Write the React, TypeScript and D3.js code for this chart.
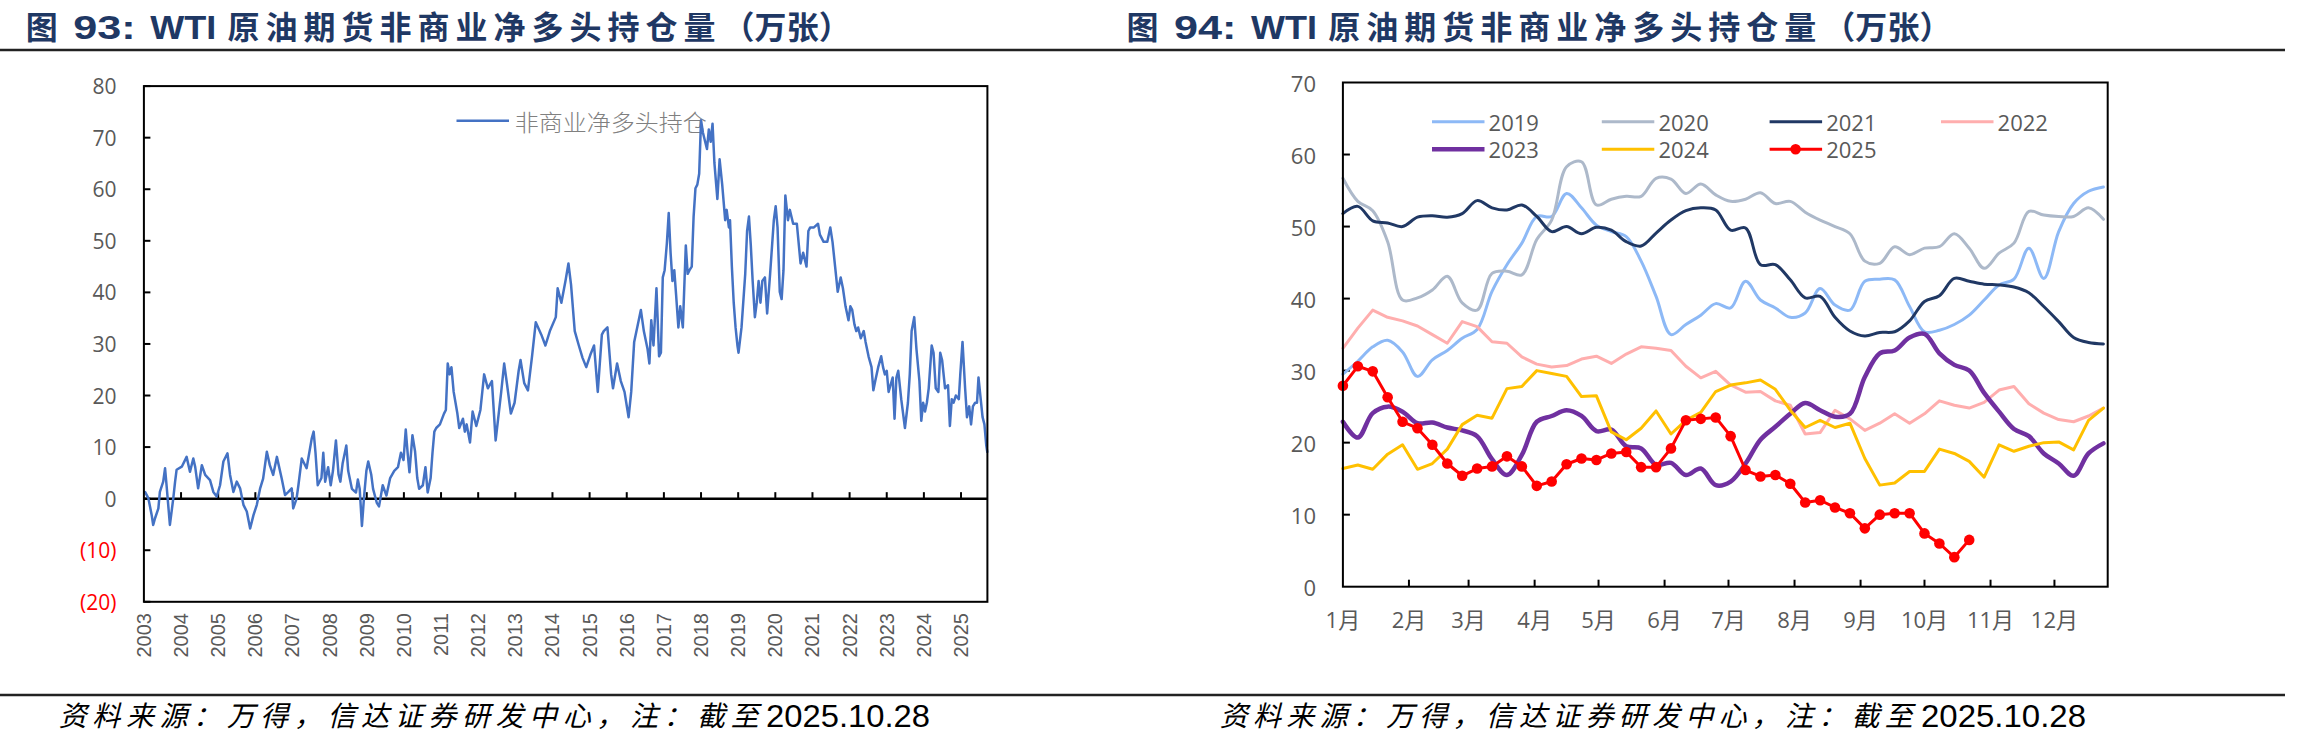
import React, { useEffect } from "react";
import * as d3 from "d3";

// ---------- Figure 93: weekly non-commercial net long (10k contracts), 2003–2025 ----------
const netLongYear = [
  2003.0, 2003.03, 2003.12, 2003.21, 2003.25, 2003.3, 2003.39, 2003.43, 2003.52, 2003.57, 2003.61, 2003.7,
  2003.79, 2003.84, 2003.88, 2004.02, 2004.15, 2004.24, 2004.33, 2004.38, 2004.46, 2004.56, 2004.65, 2004.78,
  2004.87, 2004.96, 2005.05, 2005.14, 2005.25, 2005.32, 2005.41, 2005.5, 2005.59, 2005.68, 2005.77, 2005.86,
  2005.95, 2006.04, 2006.13, 2006.21, 2006.31, 2006.39, 2006.48, 2006.58, 2006.71, 2006.8, 2006.89, 2006.98,
  2007.02, 2007.11, 2007.16, 2007.25, 2007.38, 2007.52, 2007.57, 2007.62, 2007.68, 2007.78, 2007.83, 2007.88,
  2007.96, 2008.03, 2008.09, 2008.17, 2008.24, 2008.29, 2008.35, 2008.45, 2008.5, 2008.6, 2008.71, 2008.76,
  2008.81, 2008.87, 2008.93, 2008.99, 2009.04, 2009.12, 2009.17, 2009.27, 2009.33, 2009.43, 2009.53, 2009.63,
  2009.74, 2009.84, 2009.92, 2009.99, 2010.05, 2010.1, 2010.15, 2010.23, 2010.3, 2010.36, 2010.41, 2010.51,
  2010.58, 2010.64, 2010.72, 2010.77, 2010.82, 2010.87, 2010.97, 2011.08, 2011.13, 2011.18, 2011.23, 2011.28,
  2011.34, 2011.44, 2011.49, 2011.59, 2011.64, 2011.69, 2011.78, 2011.85, 2011.95, 2012.06, 2012.16, 2012.26,
  2012.37, 2012.47, 2012.52, 2012.62, 2012.7, 2012.78, 2012.88, 2012.98, 2013.09, 2013.14, 2013.24, 2013.34,
  2013.45, 2013.55, 2013.7, 2013.81, 2013.93, 2014.09, 2014.14, 2014.24, 2014.35, 2014.43, 2014.5, 2014.6,
  2014.71, 2014.81, 2014.91, 2015.02, 2015.12, 2015.22, 2015.33, 2015.38, 2015.48, 2015.58, 2015.63, 2015.74,
  2015.84, 2015.94, 2016.05, 2016.12, 2016.2, 2016.3, 2016.38, 2016.46, 2016.56, 2016.61, 2016.66, 2016.72,
  2016.8, 2016.87, 2016.92, 2016.97, 2017.02, 2017.08, 2017.13, 2017.18, 2017.23, 2017.28, 2017.33, 2017.39,
  2017.44, 2017.51, 2017.59, 2017.64, 2017.69, 2017.75, 2017.8, 2017.85, 2017.9, 2017.95, 2018.0, 2018.05,
  2018.16, 2018.21, 2018.26, 2018.31, 2018.36, 2018.44, 2018.5, 2018.57, 2018.65, 2018.69, 2018.75, 2018.78,
  2018.83, 2018.88, 2018.93, 2018.98, 2019.01, 2019.09, 2019.19, 2019.24, 2019.29, 2019.34, 2019.39, 2019.45,
  2019.5, 2019.55, 2019.6, 2019.65, 2019.72, 2019.78, 2019.86, 2019.96, 2020.01, 2020.06, 2020.12, 2020.17,
  2020.22, 2020.27, 2020.34, 2020.39, 2020.48, 2020.58, 2020.68, 2020.75, 2020.84, 2020.89, 2020.94, 2021.04,
  2021.15, 2021.2, 2021.3, 2021.4, 2021.48, 2021.54, 2021.61, 2021.68, 2021.76, 2021.82, 2021.89, 2021.97,
  2022.02, 2022.07, 2022.13, 2022.18, 2022.23, 2022.3, 2022.38, 2022.43, 2022.51, 2022.59, 2022.64, 2022.69,
  2022.77, 2022.85, 2022.9, 2022.95, 2023.0, 2023.05, 2023.16, 2023.21, 2023.26, 2023.31, 2023.39, 2023.49,
  2023.57, 2023.62, 2023.67, 2023.74, 2023.8, 2023.88, 2023.93, 2023.98, 2024.03, 2024.08, 2024.13, 2024.21,
  2024.26, 2024.32, 2024.39, 2024.44, 2024.49, 2024.57, 2024.65, 2024.7, 2024.75, 2024.8, 2024.86, 2024.94,
  2024.98, 2025.04, 2025.11, 2025.16, 2025.22, 2025.27, 2025.32, 2025.38, 2025.43, 2025.47, 2025.52, 2025.58,
  2025.63, 2025.68, 2025.71,
];
const netLongValue = [
  1.0, 1.3, 0.1, -3.2, -5.1, -3.8, -1.9, 1.3, 3.3, 5.9, 2.6, -5.1,
  0.0, 3.3, 5.6, 6.2, 8.1, 5.2, 7.8, 6.2, 2.0, 6.5, 4.6, 3.6,
  1.3, 0.4, 2.6, 7.2, 8.8, 4.6, 1.3, 3.3, 2.0, -1.2, -2.5, -5.8,
  -3.2, -1.2, 2.0, 3.9, 9.1, 6.5, 4.6, 8.1, 3.9, 0.7, 1.3, 2.0,
  -1.9, 0.0, 2.6, 7.8, 5.9, 11.7, 13.0, 8.9, 2.6, 4.0, 8.9, 3.3,
  6.1, 2.6, 5.4, 11.3, 4.7, 3.3, 6.8, 10.3, 5.4, 1.9, 1.2, 3.7,
  1.9, -5.3, 0.6, 5.4, 7.2, 4.7, 1.9, -0.8, -1.5, 2.6, 0.6, 4.0,
  5.4, 6.1, 8.9, 7.5, 13.4, 8.9, 5.1, 12.3, 9.2, 4.0, 1.9, 2.6,
  6.1, 1.2, 4.0, 8.9, 13.0, 13.7, 14.4, 16.5, 17.2, 26.2, 24.1, 25.5,
  20.7, 16.5, 13.7, 15.5, 13.0, 14.4, 10.9, 16.9, 14.1, 17.2, 24.1, 21.4,
  22.8, 11.3, 14.4, 20.7, 26.2, 22.0, 16.5, 18.6, 24.8, 26.9, 22.4, 21.0,
  27.6, 34.2, 31.8, 29.7, 32.5, 35.2, 40.8, 38.0, 42.2, 45.6, 41.5, 32.5,
  29.7, 27.3, 25.5, 27.9, 29.7, 20.7, 31.8, 32.5, 33.2, 24.1, 21.4, 26.2,
  22.8, 20.7, 15.8, 20.7, 30.4, 33.8, 36.6, 32.5, 29.0, 26.2, 34.6, 29.7,
  40.8, 27.6, 28.3, 42.9, 44.3, 49.5, 55.4, 47.7, 42.2, 44.3, 39.4, 33.2,
  37.3, 33.2, 49.1, 43.6, 44.3, 45.0, 54.7, 60.2, 60.9, 63.0, 73.4, 71.0,
  67.8, 71.6, 69.2, 72.7, 65.1, 58.1, 65.8, 60.9, 54.0, 56.0, 52.6, 54.0,
  45.0, 38.0, 33.2, 29.7, 28.3, 33.2, 43.6, 51.9, 54.7, 49.1, 42.2, 35.2,
  38.0, 42.2, 38.0, 42.2, 42.9, 35.9, 43.6, 54.0, 56.7, 52.6, 40.1, 38.7,
  44.3, 58.8, 54.0, 56.0, 53.3, 53.3, 45.6, 47.7, 45.0, 51.9, 52.6, 52.6,
  53.3, 51.2, 49.8, 49.8, 52.6, 49.8, 45.0, 40.1, 42.9, 40.8, 37.3, 34.6,
  37.3, 36.6, 33.8, 32.5, 33.2, 31.1, 32.5, 30.4, 27.6, 25.5, 21.0, 22.8,
  25.5, 27.6, 25.5, 24.1, 24.8, 20.7, 23.5, 15.5, 23.5, 24.8, 19.3, 13.7,
  18.6, 24.1, 32.5, 35.2, 29.0, 22.8, 15.1, 18.6, 16.9, 18.6, 21.4, 29.7,
  28.3, 21.4, 20.7, 28.3, 26.9, 21.4, 22.0, 14.1, 19.3, 18.6, 20.0, 19.3,
  24.1, 30.4, 21.4, 15.8, 17.9, 14.4, 17.9, 18.6, 18.6, 23.5, 20.0, 15.8,
  14.4, 10.3, 8.9,
];
const yearLabels = [
  "2003", "2004", "2005", "2006", "2007", "2008", "2009", "2010", "2011", "2012", "2013", "2014",
  "2015", "2016", "2017", "2018", "2019", "2020", "2021", "2022", "2023", "2024", "2025",
];
const netLongTicks = [80, 70, 60, 50, 40, 30, 20, 10, 0, -10, -20];

// ---------- Figure 94: the same position, one line per year, by week of year ----------
const monthLabels = ["1月", "2月", "3月", "4月", "5月", "6月", "7月", "8月", "9月", "10月", "11月", "12月"];
const seasonTicks = [0, 10, 20, 30, 40, 50, 60, 70];
const seasonNames = ["2019", "2020", "2021", "2022", "2023", "2024", "2025"];

const net2019 = [
  29.5, 31.3, 33.3, 34.2, 32.6, 29.2, 31.5, 32.8, 34.5, 35.7, 41.0, 44.7, 47.7, 51.4, 51.4, 54.6, 52.6, 50.2,
  49.3, 48.6, 45.2, 40.3, 35.0, 36.4, 37.7, 39.3, 38.7, 42.4, 39.8, 38.7, 37.4, 38.0, 41.4, 39.1, 38.4, 42.4,
  42.7, 42.6, 38.9, 35.4, 35.6, 36.4, 37.7, 39.8, 41.9, 42.7, 47.0, 42.8, 49.3, 53.2, 54.9, 55.5,
];
const net2020 = [
  56.7, 53.5, 52.2, 47.9, 39.8, 40.1, 41.2, 43.1, 39.4, 38.4, 43.5, 43.8, 43.3, 48.2, 50.9, 58.3, 59.0, 53.0,
  53.8, 54.2, 54.2, 56.7, 56.6, 54.6, 55.9, 54.4, 53.5, 53.8, 54.7, 53.2, 53.5, 52.0, 50.9, 50.0, 49.0, 45.2,
  44.9, 47.2, 46.1, 47.0, 47.2, 49.0, 47.0, 44.2, 46.3, 47.7, 52.1, 51.6, 51.4, 51.4, 52.6, 51.0,
];
const net2021 = [
  51.8, 52.8, 50.8, 50.5, 50.0, 51.3, 51.5, 51.3, 51.8, 53.6, 52.6, 52.3, 53.0, 51.4, 49.3, 50.0, 49.0, 49.9,
  49.5, 47.9, 47.3, 49.1, 50.9, 52.2, 52.6, 52.3, 49.5, 49.8, 44.7, 44.7, 42.6, 40.1, 40.3, 37.4, 35.5, 34.8,
  35.3, 35.4, 36.9, 39.6, 40.4, 42.8, 42.4, 42.0, 41.9, 41.6, 40.8, 38.9, 36.8, 34.6, 33.9, 33.7,
];
const net2022 = [
  33.1, 35.9, 38.4, 37.4, 36.9, 36.2, 35.0, 33.8, 36.8, 36.1, 34.0, 33.8, 31.9, 30.9, 30.5, 30.7, 31.6, 32.0,
  31.0, 32.3, 33.3, 33.1, 32.8, 30.6, 29.0, 29.9, 28.0, 27.0, 27.1, 25.8, 25.2, 21.2, 21.4, 24.5, 23.3, 21.7,
  22.7, 24.0, 22.7, 24.0, 25.8, 25.2, 24.8, 25.6, 27.3, 27.8, 25.4, 24.1, 23.2, 22.9, 23.7, 24.8,
];
const net2023 = [
  22.9, 20.7, 24.1, 25.0, 24.3, 22.7, 22.8, 22.1, 21.7, 20.9, 17.7, 15.5, 18.3, 22.9, 23.7, 24.5, 23.7, 21.6,
  21.8, 19.5, 19.2, 16.9, 17.2, 15.5, 16.4, 14.1, 14.6, 17.1, 20.4, 22.2, 24.0, 25.5, 24.5, 23.6, 24.0, 29.1,
  32.4, 32.8, 34.6, 35.1, 32.4, 30.8, 30.0, 26.9, 24.3, 21.9, 20.9, 18.5, 17.1, 15.4, 18.5, 19.9,
];
const net2024 = [
  16.4, 16.9, 16.3, 18.4, 19.7, 16.3, 17.1, 19.1, 22.5, 23.8, 23.4, 27.5, 27.8, 30.0, 29.6, 29.2, 26.4, 26.5,
  21.5, 20.4, 22.0, 24.4, 21.2, 23.1, 24.2, 27.1, 28.0, 28.3, 28.7, 27.4, 24.5, 22.1, 23.1, 22.1, 22.7, 17.8,
  14.1, 14.4, 16.0, 16.0, 19.1, 18.5, 17.4, 15.2, 19.7, 18.8, 19.5, 20.0, 20.1, 19.0, 23.1, 24.8,
];
const net2025 = [
  27.9, 30.6, 29.9, 26.3, 22.9, 22.0, 19.7, 17.1, 15.4, 16.4, 16.7, 18.1, 16.7, 14.0, 14.6, 17.0, 17.8, 17.6,
  18.5, 18.7, 16.6, 16.6, 19.2, 23.1, 23.3, 23.5, 20.9, 16.2, 15.3, 15.5, 14.3, 11.7, 12.0, 11.0, 10.2, 8.1,
  10.0, 10.2, 10.2, 7.4, 6.0, 4.1, 6.5,
];

const seasonValues = [net2019, net2020, net2021, net2022, net2023, net2024, net2025];
const seasonColors = ["#8DB9F6", "#ADB9CA", "#203864", "#FFAEAE", "#7030A0", "#FFC000", "#FF0000"];
const seasonWidths = [3, 3, 3, 3, 4.5, 3, 3];
const seasonSmooth = [true, true, true, false, true, false, false];

const TITLE_COLOR = "#1F3864";
const AXIS_TEXT = "#595959";
const LATIN = "'Open Sans', 'Noto Sans CJK SC', sans-serif";
const CJK = "'Noto Sans CJK SC', sans-serif";
const ARIAL = "'Liberation Sans', Arial, sans-serif";

// Title pieces: [text, left offset, width, latin?]
const titleParts: [string, number, number, boolean][] = [
  ["图", 0, 40.5, false],
  ["93:", 47.6, 62.4, true],
  ["WTI", 124.6, 66, true],
  ["原油期货非商业净多头持仓量", 201.7, 488, false],
  ["（万张）", 696.7, 128.4, false],
];

function Title({ x, num }: { x: number; num: string }) {
  return (
    <g fill={TITLE_COLOR} fontWeight={700}>
      {titleParts.map(([t, dx, w, latin]) => (
        <text
          key={dx}
          x={x + dx}
          y={38.5}
          fontFamily={latin ? ARIAL : CJK}
          fontSize={latin ? 34 : 32}
          textLength={w}
          lengthAdjust={latin ? "spacingAndGlyphs" : "spacing"}
        >
          {t === "93:" ? `${num}:` : t}
        </text>
      ))}
    </g>
  );
}

function Source({ x, cjkWidth, dateX, dateWidth }: { x: number; cjkWidth: number; dateX: number; dateWidth: number }) {
  return (
    <g>
      <text
        x={x}
        y={726}
        fontFamily={CJK}
        fontStyle="italic"
        fontSize={28}
        fill="#000"
        textLength={cjkWidth}
        lengthAdjust="spacing"
      >
        资料来源：万得，信达证券研发中心，注：截至
      </text>
      <text
        x={dateX}
        y={727}
        fontFamily="'Liberation Sans Narrow', 'Liberation Sans', sans-serif"
        fontSize={31}
        fill="#000"
        textLength={dateWidth}
        lengthAdjust="spacingAndGlyphs"
      >
        2025.10.28
      </text>
    </g>
  );
}

function NetLongChart() {
  const left = 143.9, right = 987.4, top = 86.1, bottom = 601.8;
  const x = d3.scaleLinear().domain([2003, 2025.71]).range([left, right]);
  const y = d3.scaleLinear().domain([-20, 80]).range([bottom, top]);
  const line = d3
    .line<number>()
    .x((_, i) => x(netLongYear[i]))
    .y((d) => y(d));
  const y0 = y(0);
  const yearTicks = yearLabels.map((s) => +s);

  return (
    <g>
      {/* value axis labels */}
      {netLongTicks.map((v) => (
        <text
          key={v}
          x={116.5}
          y={y(v)}
          textAnchor="end"
          dominantBaseline="central"
          fontFamily={LATIN}
          fontSize={21}
          fill={v < 0 ? "#FF0000" : AXIS_TEXT}
        >
          {v < 0 ? `(${-v})` : `${v}`}
        </text>
      ))}
      {netLongTicks.map((v) => (
        <line key={"t" + v} x1={left} x2={left + 6.5} y1={y(v)} y2={y(v)} stroke="#000" strokeWidth={2} />
      ))}

      {/* year ticks on the zero line */}
      {yearTicks.slice(1).map((yr) => (
        <line key={yr} x1={x(yr)} x2={x(yr)} y1={y0} y2={y0 - 6.5} stroke="#000" strokeWidth={2} />
      ))}
      <line x1={left} x2={right} y1={y0} y2={y0} stroke="#000" strokeWidth={2.5} />

      {/* year labels, rotated */}
      {yearLabels.map((s) => (
        <text
          key={s}
          transform={`translate(${x(+s)},613) rotate(-90)`}
          textAnchor="end"
          dominantBaseline="central"
          fontFamily={ARIAL}
          fontSize={20}
          fill={AXIS_TEXT}
        >
          {s}
        </text>
      ))}

      {/* legend */}
      <line x1={456.5} x2={509} y1={120.7} y2={120.7} stroke="#4472C4" strokeWidth={2.5} />
      <text
        x={514.7}
        y={121}
        dominantBaseline="central"
        fontFamily={CJK}
        fontWeight={300}
        fontSize={23}
        fill="#808080"
        textLength={192}
        lengthAdjust="spacingAndGlyphs"
      >
        非商业净多头持仓
      </text>

      <path d={line(netLongValue) ?? ""} fill="none" stroke="#4472C4" strokeWidth={2.5} strokeLinejoin="round" />

      <rect x={left} y={top} width={right - left} height={bottom - top} fill="none" stroke="#000" strokeWidth={2} />
    </g>
  );
}

function SeasonChart() {
  const left = 1342.9, right = 2107.7, top = 82.5, bottom = 586.7;
  const start = Date.UTC(2021, 0, 1);
  const end = Date.UTC(2021, 11, 26);
  const x = d3.scaleUtc().domain([new Date(start), new Date(end)]).range([left, right]);
  const y = d3.scaleLinear().domain([0, 70]).range([bottom, top]);
  const weekDate = (i: number) => new Date(Date.UTC(2021, 0, 1 + 7 * i));
  const months = d3.utcMonth.range(new Date(start), new Date(end));

  const makeLine = (smooth: boolean) =>
    d3
      .line<number>()
      .x((_, i) => x(weekDate(i)))
      .y((d) => y(d))
      .curve(smooth ? d3.curveCatmullRom.alpha(0.5) : d3.curveLinear);

  const legendCols = [1432, 1601.8, 1769.6, 1941];
  const legendRows = [121.7, 149.3];

  return (
    <g>
      {seasonTicks.map((v) => (
        <text
          key={v}
          x={1316}
          y={y(v)}
          textAnchor="end"
          dominantBaseline="central"
          fontFamily={LATIN}
          fontSize={22}
          fill={AXIS_TEXT}
        >
          {v}
        </text>
      ))}
      {seasonTicks.slice(1, -1).map((v) => (
        <line key={"t" + v} x1={left} x2={left + 7} y1={y(v)} y2={y(v)} stroke="#000" strokeWidth={2} />
      ))}
      {months.slice(1).map((m) => (
        <line key={+m} x1={x(m)} x2={x(m)} y1={bottom} y2={bottom - 7} stroke="#000" strokeWidth={2} />
      ))}
      {months.map((m, i) => (
        <text
          key={"l" + +m}
          x={x(m)}
          y={618.5}
          textAnchor="middle"
          dominantBaseline="central"
          fontFamily={LATIN}
          fontSize={22}
          fill={AXIS_TEXT}
        >
          {monthLabels[i]}
        </text>
      ))}

      {seasonValues.map((vals, k) => (
        <path
          key={seasonNames[k]}
          d={makeLine(seasonSmooth[k])(vals) ?? ""}
          fill="none"
          stroke={seasonColors[k]}
          strokeWidth={seasonWidths[k]}
          strokeLinejoin="round"
          strokeLinecap="round"
        />
      ))}
      {net2025.map((v, i) => (
        <circle key={i} cx={x(weekDate(i))} cy={y(v)} r={5.3} fill="#FF0000" />
      ))}

      {/* legend: two rows of four */}
      {seasonNames.map((name, k) => {
        const lx = legendCols[k % 4];
        const ly = legendRows[Math.floor(k / 4)];
        return (
          <g key={"lg" + name}>
            <line x1={lx} x2={lx + 52.5} y1={ly} y2={ly} stroke={seasonColors[k]} strokeWidth={seasonWidths[k]} />
            {name === "2025" && <circle cx={lx + 26} cy={ly} r={5.3} fill="#FF0000" />}
            <text
              x={lx + 56.6}
              y={ly}
              dominantBaseline="central"
              fontFamily={LATIN}
              fontSize={22}
              fill={AXIS_TEXT}
            >
              {name}
            </text>
          </g>
        );
      })}

      <rect x={left} y={top} width={right - left} height={bottom - top} fill="none" stroke="#000" strokeWidth={2} />
    </g>
  );
}

export default function App() {
  useEffect(() => {
    document.body.style.margin = "0";
  }, []);
  return (
    <svg
      width={2301}
      height={749}
      viewBox="0 0 2301 749"
      style={{ position: "absolute", left: 0, top: 0, background: "#fff" }}
    >
      <rect x={0} y={0} width={2301} height={749} fill="#fff" />

      <Title x={25.7} num="93" />
      <Title x={1126.5} num="94" />
      <line x1={0} x2={2285} y1={50} y2={50} stroke="#222" strokeWidth={2.5} />

      <NetLongChart />
      <SeasonChart />

      <line x1={0} x2={2285} y1={695} y2={695} stroke="#222" strokeWidth={2.5} />
      <Source x={58.7} cjkWidth={700} dateX={766} dateWidth={164} />
      <Source x={1219.7} cjkWidth={693} dateX={1921} dateWidth={165} />
    </svg>
  );
}
